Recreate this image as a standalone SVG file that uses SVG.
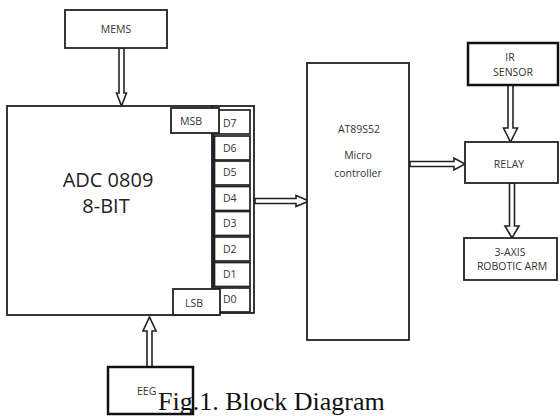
<svg xmlns="http://www.w3.org/2000/svg" width="560" height="416" viewBox="0 0 560 416">
<style>
.box{fill:#fff;stroke:#222;stroke-width:1.8}
.thick{fill:#fff;stroke:#111;stroke-width:2.5}
.cell{fill:#fff;stroke:#222;stroke-width:1.7}
.arrow{fill:#fff;stroke:#222;stroke-width:1.6;stroke-linejoin:miter}
.lbl{font-family:"Open Sans","Liberation Sans",sans-serif;font-size:10.5px;fill:#333}
.mid{text-anchor:middle}
.big{font-family:"Open Sans","Liberation Sans",sans-serif;font-size:20px;fill:#222;text-anchor:middle}
.cap{font-family:"Liberation Serif","Times New Roman",serif;font-size:26px;fill:#111}
</style>
<rect width="560" height="416" fill="#fff"/>
<g id="connectors">
<polygon class="arrow" points="119,48 124,48 124,93 126.5,93 121.5,106 116.5,93 119,93"/>
<polygon class="arrow" points="147,367 152,367 152,331 156,331 149.5,317 143,331 147,331"/>
<polygon class="arrow" points="255,198.5 296,198.5 296,195.5 309,201 296,206.5 296,203.5 255,203.5"/>
<polygon class="arrow" points="410,161.5 454,161.5 454,158 465,164 454,170 454,166.5 410,166.5"/>
<polygon class="arrow" points="508,85 513,85 513,128 517.5,128 510.5,142 503.5,128 508,128"/>
<polygon class="arrow" points="509.5,183 514.5,183 514.5,226 519,226 512,238 505,226 509.5,226"/>
</g>
<g id="mems">
<rect class="box" x="65" y="10" width="102" height="38"/>
<text class="lbl mid" x="116" y="33">MEMS</text>
</g>
<g id="adc">
<rect class="box" x="7" y="106" width="210" height="209"/>
<rect class="box" x="212" y="106" width="42" height="207"/>
<line x1="213" y1="132" x2="213" y2="290" stroke="#222" stroke-width="2.2"/>
<text class="big" x="108" y="187">ADC 0809</text>
<text class="big" x="106" y="213">8-BIT</text>
</g>
<g id="dbus">
<rect class="cell" x="214.5" y="110" width="35.5" height="24"/>
<rect class="cell" x="214.5" y="136" width="35.5" height="24"/>
<rect class="cell" x="214.5" y="161" width="35.5" height="24"/>
<rect class="cell" x="214.5" y="186.5" width="35.5" height="24"/>
<rect class="cell" x="214.5" y="211.5" width="35.5" height="24"/>
<rect class="cell" x="214.5" y="237" width="35.5" height="24"/>
<rect class="cell" x="214.5" y="262.5" width="35.5" height="24"/>
<rect class="cell" x="214.5" y="288" width="35.5" height="24"/>
<text class="lbl" x="223" y="127">D7</text>
<text class="lbl" x="223" y="152">D6</text>
<text class="lbl" x="223" y="176">D5</text>
<text class="lbl" x="223" y="202">D4</text>
<text class="lbl" x="223" y="227">D3</text>
<text class="lbl" x="223" y="253">D2</text>
<text class="lbl" x="223" y="278">D1</text>
<text class="lbl" x="223" y="303">D0</text>
</g>
<g id="msb">
<rect class="box" x="171" y="108" width="48" height="25"/>
<text class="lbl" x="180" y="125">MSB</text>
</g>
<g id="lsb">
<rect class="box" x="173" y="289" width="47" height="26"/>
<text class="lbl" x="185" y="307">LSB</text>
</g>
<g id="eeg">
<rect class="thick" x="108" y="367" width="85" height="47"/>
<text class="lbl" x="137" y="395">EEG</text>
</g>
<g id="micro">
<rect class="box" x="307" y="63" width="102" height="277"/>
<text class="lbl mid" x="359" y="133">AT89S52</text>
<text class="lbl mid" x="358" y="159">Micro</text>
<text class="lbl mid" x="358" y="177">controller</text>
</g>
<g id="ir">
<rect class="thick" x="468" y="43" width="90" height="42"/>
<text class="lbl mid" x="510" y="61">IR</text>
<text class="lbl mid" x="513" y="76">SENSOR</text>
</g>
<g id="relay">
<rect class="box" x="465" y="142" width="93" height="41"/>
<text class="lbl mid" x="509" y="168">RELAY</text>
</g>
<g id="arm">
<rect class="box" x="464" y="238" width="93" height="42"/>
<text class="lbl mid" x="510" y="256">3-AXIS</text>
<text class="lbl mid" x="512" y="270">ROBOTIC ARM</text>
</g>
<text class="cap" x="158" y="410">Fig.1. Block Diagram</text>
</svg>
